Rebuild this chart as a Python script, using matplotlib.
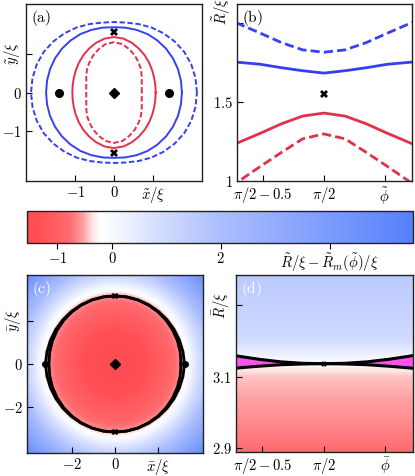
import numpy as np
import matplotlib
matplotlib.use("Agg")
import matplotlib.pyplot as plt
from matplotlib.colors import LinearSegmentedColormap, Normalize
from matplotlib.cm import ScalarMappable

plt.rcParams["mathtext.fontset"] = "cm"
plt.rcParams["font.family"] = "serif"
plt.rcParams["font.serif"] = ["DejaVu Serif"]

# polar angle samples (degrees), first quadrant; curves are mirror symmetric
theta_deg = [0, 10, 20, 30, 40, 50, 60, 70, 80, 90]
r_blue_dashed = [2.15, 2.145, 2.13, 2.10, 2.05, 1.994, 1.936, 1.876, 1.830, 1.815]
r_blue_solid = [1.76, 1.762, 1.764, 1.764, 1.76, 1.751, 1.739, 1.717, 1.698, 1.683]
r_red_solid = [1.08, 1.087, 1.108, 1.143, 1.19, 1.245, 1.302, 1.362, 1.411, 1.43]
r_red_dashed = [0.72, 0.73, 0.765, 0.83, 0.915, 1.0, 1.092, 1.181, 1.267, 1.298]

# special points in (a)/(b)
dot_x = [-1.42, 1.42]
cross_y = [-1.553, 1.553]

# boundary ring in (c)/(d)
ring_upper = [3.242, 3.220, 3.200, 3.184, 3.169, 3.158, 3.149, 3.142, 3.138, 3.137]
ring_lower = [3.075, 3.088, 3.100, 3.109, 3.118, 3.125, 3.130, 3.134, 3.136, 3.137]
ring_cross = 3.137

# colour scale (value, rgb)
cbar_vals = [-1.56, -1.32, -0.77, -0.53, -0.36, -0.21, 0.15, 0.76, 1.99, 5.53]
cbar_rgb = [(255, 75, 80), (255, 80, 85), (255, 108, 112), (255, 160, 162), (255, 228, 228),
            (255, 255, 255), (243, 246, 255), (215, 224, 255), (172, 190, 255), (85, 128, 250)]
cbar_ticks = [-1, 0, 2, 4]

# background levels in (c) (vs radius) and (d) (vs R)
c_r = [0.0, 1.5, 2.5, 3.1, 3.35, 4.1, 5.8]
c_v = [-1.5, -1.3, -0.95, -0.62, -0.21, 1.2, 4.8]
d_R = [2.89, 3.0, 3.1, 3.125, 3.17, 3.2, 3.385]
d_v = [-0.78, -0.58, -0.44, -0.3, 0.4, 0.9, 1.6]

BLUE = "#3541ef"
RED = "#e3304a"
MAGENTA = "#fb52ec"
FS = 10.5


def full_curve(r):
    th = np.array(theta_deg, float)
    r = np.array(r, float)
    ang = np.concatenate([th, 180 - th[::-1][1:], 180 + th[1:], 360 - th[::-1][1:]])
    rr = np.concatenate([r, r[::-1][1:], r[1:], r[::-1][1:]])
    return np.radians(ang), rr


def set_ticks(ax, xt, xl, yt, yl, rotate_last=True):
    ax.set_xticks(xt)
    ax.set_xticklabels(xl)
    ax.set_yticks(yt)
    ax.set_yticklabels(yl)
    if rotate_last:
        lab = ax.get_yticklabels()[-1]
        lab.set_rotation(90)
        lab.set_va("center")
    ax.tick_params(direction="in", length=4, width=0.8, labelsize=FS, pad=3)
    for s in ax.spines.values():
        s.set_linewidth(1.0)
        s.set_color("#222222")


pos = [(v - cbar_vals[0]) / (cbar_vals[-1] - cbar_vals[0]) for v in cbar_vals]
cmap = LinearSegmentedColormap.from_list(
    "rw_b", list(zip(pos, [tuple(c / 255 for c in rgb) for rgb in cbar_rgb])), N=4096)
norm = Normalize(cbar_vals[0], cbar_vals[-1])

fig = plt.figure(figsize=(4.15, 4.76), dpi=100)
ax_a = fig.add_axes([0.0627, 0.6197, 0.424, 0.3718])
ax_b = fig.add_axes([0.571, 0.6197, 0.4217, 0.3718])
cax = fig.add_axes([0.065, 0.4895, 0.930, 0.0672])
ax_c = fig.add_axes([0.065, 0.0483, 0.424, 0.374])
ax_d = fig.add_axes([0.5687, 0.0504, 0.4265, 0.372])

styles = [(r_blue_dashed, BLUE, (0, (2.8, 1.3))), (r_blue_solid, BLUE, "-"),
          (r_red_solid, RED, "-"), (r_red_dashed, RED, (0, (2.8, 1.3)))]

# (a)
for r, col, ls in styles:
    ang, rr = full_curve(r)
    ax_a.plot(rr * np.cos(ang), rr * np.sin(ang), color=col, ls=ls, lw=1.4)
ax_a.plot(dot_x, [0, 0], "o", color="k", ms=5.5)
ax_a.plot([0, 0], cross_y, "X", color="k", ms=5.5, mew=0)
ax_a.plot([0], [0], "D", color="k", ms=5.5)
ax_a.set_xlim(-2.28, 2.28)
ax_a.set_ylim(-2.28, 2.28)
set_ticks(ax_a, [-1, 0, 1], ["$-1$", "$0$", r"$\tilde{x}/\xi$"],
          [-1, 0, 1], ["$-1$", "$0$", r"$\tilde{y}/\xi$"])
ax_a.text(0.03, 0.975, r"$\mathrm{(a)}$", transform=ax_a.transAxes, ha="left", va="top", fontsize=11)

# (b)
for r, col, ls in styles:
    ang, rr = full_curve(r)
    ls_b = (0, (3.3, 1.5)) if ls != "-" else "-"
    ax_b.plot(ang[:19], rr[:19], color=col, ls=ls_b, lw=2.0)
ax_b.plot([np.pi / 2], [cross_y[1]], "X", color="k", ms=5.5, mew=0)
ax_b.set_xlim(np.pi / 2 - 0.715, np.pi / 2 + 0.725)
ax_b.set_ylim(1.0, 2.12)
set_ticks(ax_b, [np.pi / 2 - 0.5, np.pi / 2, np.pi / 2 + 0.5],
          [r"$\pi/2-0.5$", r"$\pi/2$", r"$\tilde{\phi}$"],
          [1, 1.5, 2], ["$1$", "$1.5$", ""], rotate_last=False)
ax_b.annotate(r"$\tilde{R}/\xi$", xy=(0, 2.07), xycoords=("axes fraction", "data"),
              xytext=(-3, 0), textcoords="offset points", rotation=90,
              ha="right", va="center", fontsize=FS)
ax_b.text(0.03, 0.975, r"$\mathrm{(b)}$", transform=ax_b.transAxes, ha="left", va="top", fontsize=11)

# colour bar
cb = fig.colorbar(ScalarMappable(norm=norm, cmap=cmap), cax=cax, orientation="horizontal")
cb.set_ticks(cbar_ticks)
cb.set_ticklabels(["$-1$", "$0$", "$2$", r"$\tilde{R}/\xi-\tilde{R}_m(\tilde{\phi})/\xi$"])
cax.tick_params(direction="out", length=4, width=0.8, labelsize=FS, pad=2)
cb.outline.set_linewidth(1.0)
cb.outline.set_edgecolor("#222222")

# (c)
g = np.linspace(-4.1, 4.1, 400)
X, Y = np.meshgrid(g, g)
field_c = np.interp(np.hypot(X, Y), c_r, c_v)
ax_c.imshow(field_c, extent=(-4.1, 4.1, -4.1, 4.1), origin="lower", cmap=cmap, norm=norm,
            interpolation="bilinear", aspect="auto")
ang_u, ru = full_curve(ring_upper)
ang_l, rl = full_curve(ring_lower)
ax_c.fill(np.concatenate([ru * np.cos(ang_u), (rl * np.cos(ang_l))[::-1]]),
          np.concatenate([ru * np.sin(ang_u), (rl * np.sin(ang_l))[::-1]]), color=MAGENTA, lw=0)
ax_c.plot(ru * np.cos(ang_u), ru * np.sin(ang_u), color="k", lw=2.0)
ax_c.plot(rl * np.cos(ang_l), rl * np.sin(ang_l), color="k", lw=2.0)
ax_c.plot([-ring_upper[0], ring_upper[0]], [0, 0], "o", color="k", ms=4)
ax_c.plot([0, 0], [-ring_cross, ring_cross], "X", color="k", ms=5, mew=0)
ax_c.plot([0], [0], "D", color="k", ms=5.5)
ax_c.set_xlim(-4.1, 4.1)
ax_c.set_ylim(-4.1, 4.1)
set_ticks(ax_c, [-2, 0, 2], ["$-2$", "$0$", r"$\bar{x}/\xi$"],
          [-2, 0, 2], ["$-2$", "$0$", r"$\bar{y}/\xi$"])
ax_c.text(0.03, 0.975, r"$\mathrm{(c)}$", transform=ax_c.transAxes, ha="left", va="top",
          fontsize=11, color="white")

# (d)
x0, x1 = np.pi / 2 - 0.715, np.pi / 2 + 0.725
y0, y1 = 2.89, 3.385
Rg = np.linspace(y0, y1, 600)
field_d = np.tile(np.interp(Rg, d_R, d_v)[:, None], (1, 50))
ax_d.imshow(field_d, extent=(x0, x1, y0, y1), origin="lower", cmap=cmap, norm=norm,
            interpolation="bilinear", aspect="auto")
ax_d.fill_between(ang_u[:19], rl[:19], ru[:19], color=MAGENTA, lw=0)
ax_d.plot(ang_u[:19], ru[:19], color="k", lw=2.2)
ax_d.plot(ang_l[:19], rl[:19], color="k", lw=2.2)
ax_d.plot([np.pi / 2], [ring_cross], "X", color="k", ms=4, mew=0)
ax_d.set_xlim(x0, x1)
ax_d.set_ylim(y0, y1)
set_ticks(ax_d, [np.pi / 2 - 0.5, np.pi / 2, np.pi / 2 + 0.5],
          [r"$\pi/2-0.5$", r"$\pi/2$", r"$\bar{\phi}$"],
          [2.9, 3.1, 3.3], ["$2.9$", "$3.1$", r"$\bar{R}/\xi$"])
ax_d.text(0.03, 0.975, r"$\mathrm{(d)}$", transform=ax_d.transAxes, ha="left", va="top",
          fontsize=11, color="white")

fig.savefig("out.png", dpi=100)
